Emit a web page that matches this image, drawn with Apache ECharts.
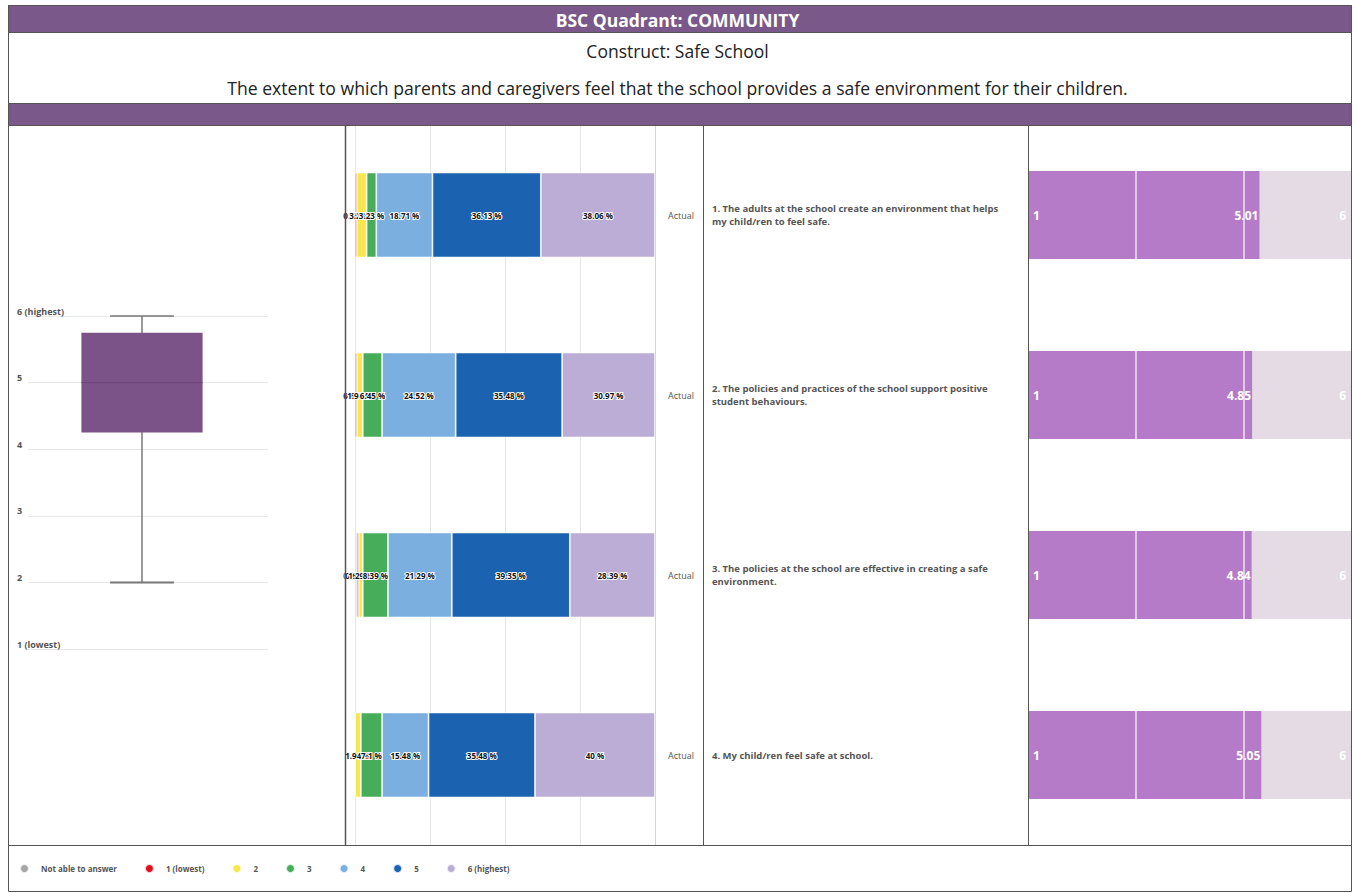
<!DOCTYPE html>
<html>
<head>
<meta charset="utf-8">
<script src="https://cdn.jsdelivr.net/npm/echarts@6/dist/echarts.min.js"></script>
<style>
html,body{margin:0;padding:0;background:#fff;}
#chart{width:1355px;height:893px;}
</style>
</head>
<body>
<div id="chart"></div>
<script>
// ---- DATA ----
const questions = [
  '1. The adults at the school create an environment that helps my child/ren to feel safe.',
  '2. The policies and practices of the school support positive student behaviours.',
  '3. The policies at the school are effective in creating a safe environment.',
  '4. My child/ren feel safe at school.'
];
const rowLabel = 'Actual';
const seriesNames = ['Not able to answer', '1 (lowest)', '2', '3', '4', '5', '6 (highest)'];
const notAble   = [0, 0, 0.65, 0];
const lowest    = [0.65, 0.65, 0.65, 0];
const two       = [3.23, 1.94, 1.29, 1.94];
const three     = [3.23, 6.45, 8.39, 7.1];
const four      = [18.71, 24.52, 21.29, 15.48];
const five      = [36.13, 35.48, 39.35, 35.48];
const highest   = [38.06, 30.97, 28.39, 40];
const meanScores = [5.01, 4.85, 4.84, 5.05];
const scaleLow = '1';
const scaleHigh = '6';
const gaugeAxisMax = 7;
const boxStats = [2, 4.25, 5, 5.75, 6]; // min, q1, median, q3, max
const boxTicks = ['1 (lowest)', '2', '3', '4', '5', '6 (highest)'];
const titleText = 'BSC Quadrant: COMMUNITY';
const constructText = 'Construct: Safe School';
const descText = 'The extent to which parents and caregivers feel that the school provides a safe environment for their children.';

const colors = ['#a6a6a6', '#e3101b', '#f6e84a', '#47ad5a', '#7aafe0', '#1b62b0', '#bcadd6'];
const stackData = [notAble, lowest, two, three, four, five, highest];
const FONT = '"Open Sans", "Noto Sans", sans-serif';
const purple = '#7a5889';

const chart = echarts.init(document.getElementById('chart'), null, {renderer: 'svg'});

const stackSeries = seriesNames.map((name, i) => ({
  name: name,
  type: 'bar',
  stack: 'dist',
  xAxisIndex: 1,
  yAxisIndex: 1,
  barWidth: 85,
  itemStyle: {color: colors[i], borderColor: 'rgba(255,255,255,0.8)', borderWidth: 0.8},
  label: {
    show: true,
    position: 'inside',
    formatter: p => (p.value > 0 ? p.value + ' %' : ''),
    fontSize: 8,
    fontWeight: 'bold',
    fontFamily: FONT,
    color: '#111',
    textBorderColor: '#fff',
    textBorderWidth: 2
  },
  data: stackData[i]
}));

const option = {
  animation: false,
  backgroundColor: '#fff',
  textStyle: {fontFamily: FONT},
  title: [
    {text: titleText, left: 'center', top: 6, textStyle: {color: '#fff', fontSize: 17.5, fontWeight: 'bold', fontFamily: FONT}},
    {text: constructText, left: 'center', top: 37, textStyle: {color: '#222', fontSize: 17.5, fontWeight: 'normal', fontFamily: FONT}},
    {text: descText, left: 'center', top: 74, textStyle: {color: '#222', fontSize: 17.6, fontWeight: 'normal', fontFamily: FONT}}
  ],
  graphic: [
    {type: 'rect', z: -10, shape: {x: 8, y: 5, width: 1344, height: 27}, style: {fill: purple}},
    {type: 'rect', z: -10, shape: {x: 8, y: 103, width: 1344, height: 22}, style: {fill: purple}},
    {type: 'rect', z: 50, shape: {x: 8.5, y: 5.5, width: 1343, height: 886}, style: {fill: 'none', stroke: '#555', lineWidth: 1}},
    {type: 'line', z: 50, shape: {x1: 8, y1: 32.5, x2: 1352, y2: 32.5}, style: {stroke: '#555', lineWidth: 1}},
    {type: 'line', z: 50, shape: {x1: 8, y1: 103.5, x2: 1352, y2: 103.5}, style: {stroke: '#555', lineWidth: 1}},
    {type: 'line', z: 50, shape: {x1: 8, y1: 125.5, x2: 1352, y2: 125.5}, style: {stroke: '#555', lineWidth: 1}},
    {type: 'line', z: 50, shape: {x1: 8, y1: 845.5, x2: 1352, y2: 845.5}, style: {stroke: '#555', lineWidth: 1}},
    {type: 'line', z: 50, shape: {x1: 345.5, y1: 125, x2: 345.5, y2: 845}, style: {stroke: '#555', lineWidth: 1.5}},
    {type: 'line', z: 50, shape: {x1: 703.5, y1: 125, x2: 703.5, y2: 845}, style: {stroke: '#555', lineWidth: 1}},
    {type: 'line', z: 50, shape: {x1: 1028.5, y1: 125, x2: 1028.5, y2: 845}, style: {stroke: '#555', lineWidth: 1}}
  ],
  legend: {
    data: seriesNames,
    left: 14,
    top: 858,
    icon: 'circle',
    itemWidth: 9,
    itemHeight: 9,
    itemGap: 27,
    selectedMode: false,
    textStyle: {fontSize: 8, fontWeight: 'bold', color: '#555', fontFamily: FONT, padding: [0, 0, 0, 7]}
  },
  grid: [
    {left: 28, top: 316, width: 240, height: 333},
    {left: 355, top: 125, width: 300, height: 720},
    {left: 1029, top: 125, width: 322, height: 720}
  ],
  xAxis: [
    {gridIndex: 0, type: 'category', data: ['Safe School'], show: false},
    {gridIndex: 1, type: 'value', min: 0, max: 100, interval: 25,
      axisLine: {show: false}, axisTick: {show: false}, axisLabel: {show: false},
      splitLine: {show: true, lineStyle: {color: ['#e6e6e6', '#e6e6e6', '#e6e6e6', '#e6e6e6', '#c9d5f0'], width: 1}}},
    {gridIndex: 2, type: 'value', min: 0, max: gaugeAxisMax, show: false}
  ],
  yAxis: [
    {gridIndex: 0, type: 'value', min: 1, max: 6, interval: 1,
      axisLine: {show: false}, axisTick: {show: false},
      splitLine: {show: true, lineStyle: {color: '#e8e8e8'}},
      axisLabel: {
        formatter: v => boxTicks[v - 1],
        align: 'left', margin: 11, verticalAlign: 'bottom', lineHeight: 10,
        fontSize: 9, fontWeight: 'bold', color: '#555', fontFamily: FONT,
        backgroundColor: '#fff', padding: [0, 3, 0, 0]
      }},
    {gridIndex: 1, type: 'category', inverse: true, data: questions, position: 'right',
      axisLine: {show: false}, axisTick: {show: false},
      axisLabel: {formatter: () => rowLabel, margin: 13, fontSize: 9, color: '#555', fontFamily: FONT}},
    {gridIndex: 1, type: 'category', inverse: true, data: questions, position: 'right', offset: 57,
      axisLine: {show: false}, axisTick: {show: false},
      axisLabel: {margin: 0, align: 'left', width: 300, overflow: 'break', lineHeight: 13,
        fontSize: 9.5, fontWeight: 'bold', color: '#555', fontFamily: FONT}},
    {gridIndex: 2, type: 'category', inverse: true, data: questions, show: false}
  ],
  series: [
    {
      type: 'custom',
      xAxisIndex: 0, yAxisIndex: 0,
      data: [[0].concat(boxStats)],
      encode: {x: 0, y: [1, 2, 3, 4, 5]},
      renderItem: function (params, api) {
        const band = api.size([1, 0])[0];
        const x = api.coord([api.value(0), api.value(1)])[0] - band * 0.025;
        const bw = band * 0.505;
        const cw = band * 0.133;
        const yMin = api.coord([0, api.value(1)])[1];
        const yQ1 = api.coord([0, api.value(2)])[1];
        const yMed = api.coord([0, api.value(3)])[1];
        const yQ3 = api.coord([0, api.value(4)])[1];
        const yMax = api.coord([0, api.value(5)])[1];
        const ls = {stroke: '#777', lineWidth: 1.5};
        return {
          type: 'group',
          children: [
            {type: 'line', shape: {x1: x, y1: yMax, x2: x, y2: yMin}, style: ls},
            {type: 'line', shape: {x1: x - cw, y1: yMax, x2: x + cw, y2: yMax}, style: ls},
            {type: 'line', shape: {x1: x - cw, y1: yMin, x2: x + cw, y2: yMin}, style: {stroke: '#777', lineWidth: 2}},
            {type: 'rect', shape: {x: x - bw / 2, y: yQ3, width: bw, height: yQ1 - yQ3}, style: {fill: '#7b5389'}},
            {type: 'line', shape: {x1: x - bw / 2, y1: yMed, x2: x + bw / 2, y2: yMed}, style: {stroke: '#6b4679', lineWidth: 1}}
          ]
        };
      }
    },
    ...stackSeries,
    {
      type: 'bar', xAxisIndex: 2, yAxisIndex: 3, barWidth: 88, barGap: '-100%',
      data: meanScores.map(() => gaugeAxisMax),
      itemStyle: {color: '#e4dbe5'},
      label: {show: true, position: 'insideRight', distance: 5, formatter: () => scaleHigh,
        fontSize: 12, fontWeight: 'bold', color: '#fff', fontFamily: FONT},
      z: 1
    },
    {
      type: 'bar', xAxisIndex: 2, yAxisIndex: 3, barWidth: 88, barGap: '-100%',
      data: meanScores,
      itemStyle: {color: '#b57bc8'},
      label: {show: true, position: 'insideRight', distance: 1, formatter: p => p.value.toFixed(2),
        fontSize: 12, fontWeight: 'bold', color: '#fff', fontFamily: FONT},
      markLine: {
        silent: true, symbol: 'none', label: {show: false},
        lineStyle: {color: 'rgba(255,255,255,0.8)', width: 1.5, type: 'solid'},
        data: [{xAxis: gaugeAxisMax / 3}, {xAxis: gaugeAxisMax * 2 / 3}]
      },
      z: 2
    },
    {
      type: 'bar', xAxisIndex: 2, yAxisIndex: 3, barWidth: 88, barGap: '-100%',
      data: meanScores,
      itemStyle: {color: 'rgba(0,0,0,0)'},
      label: {show: true, position: 'insideLeft', distance: 4, formatter: () => scaleLow,
        fontSize: 12, fontWeight: 'bold', color: '#fff', fontFamily: FONT},
      z: 3
    }
  ]
};
chart.setOption(option);
</script>
</body>
</html>
